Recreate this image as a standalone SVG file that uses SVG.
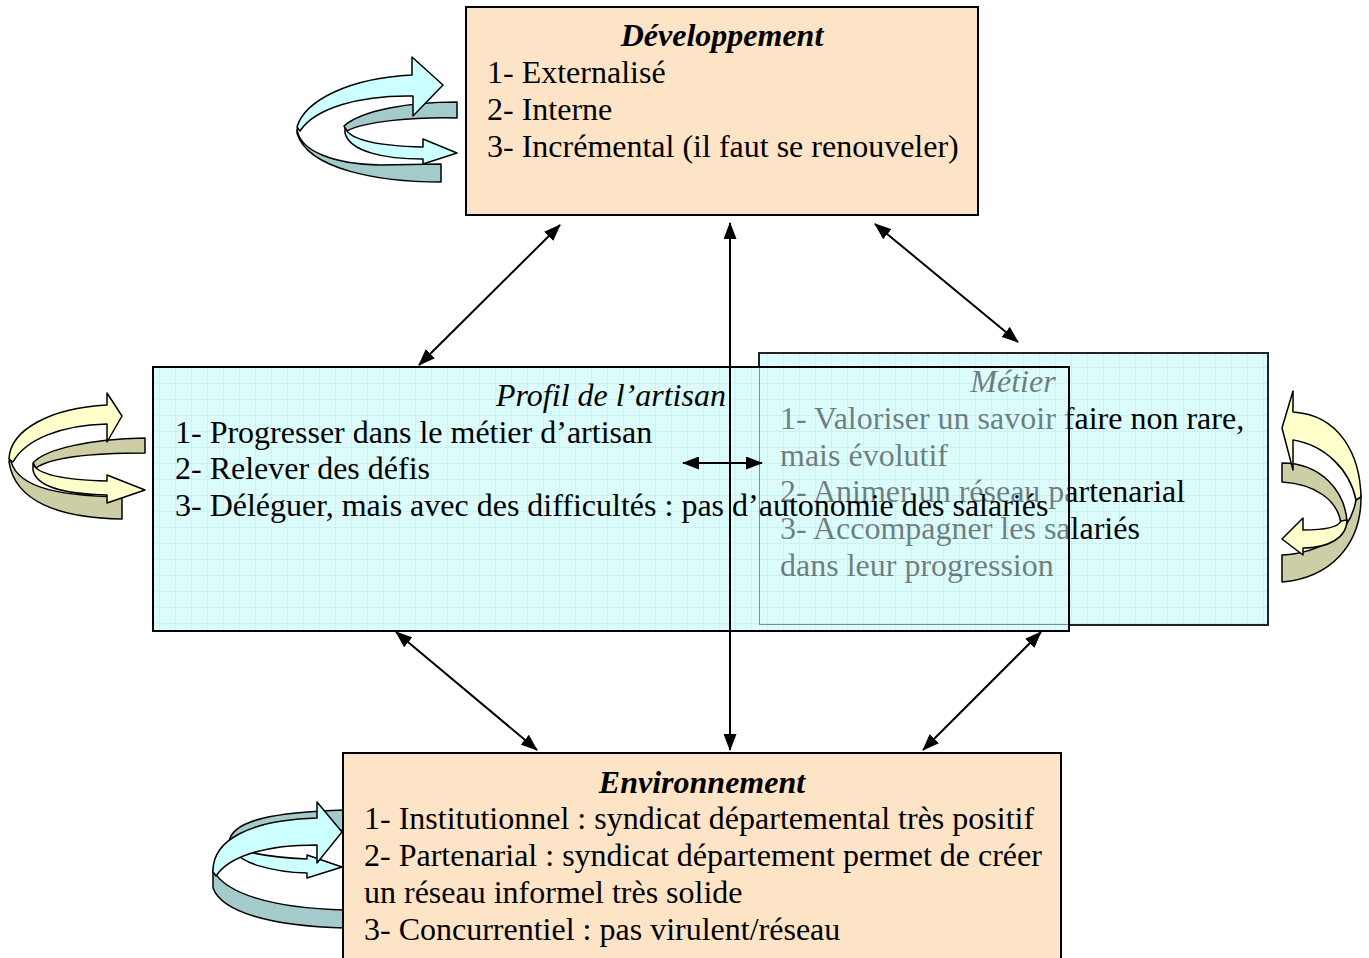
<svg xmlns="http://www.w3.org/2000/svg" width="1369" height="958" viewBox="0 0 1369 958">
<defs>
<style>
.t{font-family:"Liberation Serif","Times New Roman",serif;font-size:32px;fill:#000}
.ti{font-style:italic}
.tb{font-weight:bold;font-style:italic}
.peach{fill:#FDE4C7;stroke:#000;stroke-width:2}
.edge{fill:none;stroke:#000;stroke-width:2}
.conn{stroke:#000;stroke-width:2;fill:none;marker-start:url(#ah);marker-end:url(#ah)}
.lp path{stroke:#000;stroke-width:1.5;stroke-linejoin:round}
.cf{fill:#CCFFFF}.cb{fill:#A3CBCB}
.yf{fill:#FFFFCC}.yb{fill:#CDCDA6}
</style>
<pattern id="grid" width="16" height="16" patternUnits="userSpaceOnUse">
<rect width="16" height="16" fill="#DCFCFC"/>
<path d="M15.5,0V16M0,15.5H16" stroke="#C9F2F2" stroke-width="1"/>
</pattern>
<marker id="ah" markerWidth="17" markerHeight="13" refX="16" refY="6.5" orient="auto-start-reverse" markerUnits="userSpaceOnUse">
<path d="M0,0L17,6.5L0,13z" fill="#000"/>
</marker>
</defs>
<rect width="1369" height="958" fill="#fff"/>

<g id="loop-dev" class="lp">
<path class="cb" d="M297,129C300,152 335,164 380,165L441,164L441,182C380,182 308,170 297,133Z"/>
<path class="cb" d="M457,102L457,118C415,117 365,121 347,131L344,126C362,110 410,102 457,102Z"/>
<path class="cf" d="M345,128C350,140 380,146 423,147L423,139L457,153L423,164L423,159C385,159 350,152 345,133Z"/>
<path class="cf" d="M297,127C305,100 350,78 412,75L412,57L443,85L413,116L413,96C360,95 315,108 300,131Z"/>
</g>

<g id="loop-profil" class="lp">
<path class="yb" d="M10,457C14,485 50,496 122,497L122,519C60,518 15,502 9,462Z"/>
<path class="yb" d="M145,438L145,453C90,453 50,458 36,468L33,463C45,449 90,439 145,438Z"/>
<path class="yf" d="M33,464C38,475 65,480 107,481L107,475L145,490L107,503L107,495C60,494 36,485 33,470Z"/>
<path class="yf" d="M9,459C10,430 50,408 107,405L107,393L122,416L107,442L107,424C60,425 25,440 13,462Z"/>
</g>

<g id="loop-metier" class="lp">
<path class="yb" d="M1361,495C1362,545 1330,578 1282,582L1282,555C1320,553 1350,535 1356,500Z"/>
<path class="yb" d="M1282,463C1320,463 1345,490 1347,522L1341,524C1338,500 1315,484 1282,482Z"/>
<path class="yf" d="M1347,520C1347,538 1328,548 1303,548L1303,555L1282,539L1303,518L1303,530C1322,530 1338,528 1341,521Z"/>
<path class="yf" d="M1361,497C1360,455 1340,415 1293,412L1293,391L1282,428L1293,470L1293,440C1325,445 1350,470 1356,500Z"/>
</g>

<g id="loop-env" class="lp">
<path class="cb" d="M229,842C232,820 275,812 345,810L345,830C290,830 250,835 232,846Z"/>
<path class="cb" d="M213,870C225,893 270,908 345,910L345,928C270,926 222,912 213,888Z"/>
<path class="cf" d="M236,848C255,855 280,858 307,859L307,855L342,867L307,878L307,873C270,872 240,862 236,852Z"/>
<path class="cf" d="M213,872C212,840 250,820 317,818L317,802L342,832L317,863L317,845C260,845 228,858 216,876Z"/>
</g>

<g id="dev">
<rect class="peach" x="466" y="7" width="512" height="208"/>
<text class="t tb" x="722" y="46" text-anchor="middle">Développement</text>
<text class="t" x="487" y="83">1- Externalisé</text>
<text class="t" x="487" y="120">2- Interne</text>
<text class="t" x="487" y="157">3- Incrémental (il faut se renouveler)</text>
</g>

<g id="metier">
<rect x="759" y="353" width="509" height="272" fill="url(#grid)" stroke="#222" stroke-width="2"/>
<text class="t ti" x="1013" y="392" text-anchor="middle">Métier</text>
<text class="t" x="780" y="429">1- Valoriser un savoir faire non rare,</text>
<text class="t" x="780" y="466">mais évolutif</text>
<text class="t" x="780" y="502">2- Animer un réseau partenarial</text>
<text class="t" x="780" y="539">3- Accompagner les salariés</text>
<text class="t" x="780" y="576">dans leur progression</text>
</g>

<g id="profil">
<path d="M153,367H759V625H1069V631H153Z" fill="url(#grid)"/>
<rect x="759" y="367" width="310" height="258" fill="url(#grid)" opacity="0.5"/>
<rect class="edge" x="153" y="367" width="916" height="264"/>
<text class="t ti" x="611" y="406" text-anchor="middle">Profil de l’artisan</text>
<text class="t" x="175" y="443">1- Progresser dans le métier d’artisan</text>
<text class="t" x="175" y="479">2- Relever des défis</text>
<text class="t" x="175" y="516">3- Déléguer, mais avec des difficultés : pas d’autonomie des salariés</text>
</g>

<g id="env">
<rect class="peach" x="343" y="753" width="718" height="220"/>
<text class="t tb" x="702" y="793" text-anchor="middle">Environnement</text>
<text class="t" x="364" y="829">1- Institutionnel : syndicat départemental très positif</text>
<text class="t" x="364" y="866">2- Partenarial : syndicat département permet de créer</text>
<text class="t" x="364" y="903">un réseau informel très solide</text>
<text class="t" x="364" y="940">3- Concurrentiel : pas virulent/réseau</text>
</g>

<g id="connectors">
<line class="conn" x1="560" y1="225" x2="419" y2="365"/>
<line class="conn" x1="730" y1="223" x2="730" y2="750"/>
<line class="conn" x1="875" y1="224" x2="1018" y2="342"/>
<line class="conn" x1="396" y1="632" x2="537" y2="750"/>
<line class="conn" x1="1041" y1="632" x2="923" y2="750"/>
<line class="conn" x1="683" y1="463" x2="762" y2="463"/>
</g>
</svg>
